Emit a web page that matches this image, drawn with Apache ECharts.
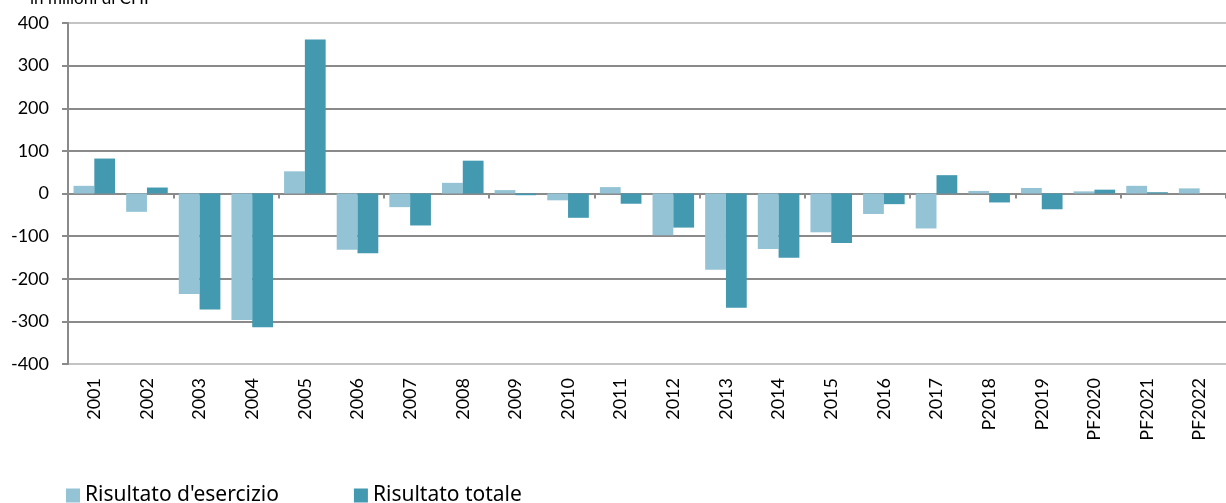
<!DOCTYPE html>
<html>
<head>
<meta charset="utf-8">
<style>
  html, body { margin: 0; padding: 0; background: #fff; }
  #chart { width: 1226px; height: 503px; }
</style>
<script src="https://cdn.jsdelivr.net/npm/echarts@6/dist/echarts.min.js"></script>
</head>
<body>
<div id="chart"></div>
<script>
// dati (milioni di CHF)
const anni = ['2001', '2002', '2003', '2004', '2005', '2006', '2007', '2008', '2009', '2010', '2011',
  '2012', '2013', '2014', '2015', '2016', '2017', 'P2018', 'P2019', 'PF2020', 'PF2021', 'PF2022']
const risultatoEsercizio = [18, -43, -236, -297, 52, -132, -32, 25, 8, -16, 15,
  -98, -179, -130, -91, -48, -82, 6, 13, 5, 18, 12]
const risultatoTotale = [82, 14, -272, -314, 361, -140, -75, 77, -4, -57, -24,
  -80, -268, -151, -116, -25, 43, -21, -37, 9, 3, 0]
const nomi = ["Risultato d'esercizio", 'Risultato totale']

const chart = echarts.init(document.getElementById('chart'))
const axisFont = 'Lato'

chart.setOption({
  animation: false,
  color: ['#93c3d5', '#4399b0'],
  title: {
    text: 'in milioni di CHF',
    left: 25,
    top: -15,
    textStyle: { fontFamily: axisFont, fontSize: 17, fontWeight: 'normal', color: '#000' }
  },
  legend: {
    data: nomi,
    left: 66,
    top: 485,
    padding: 0,
    icon: 'rect',
    itemWidth: 14,
    itemHeight: 14,
    itemGap: 75,
    textStyle: { fontFamily: 'Noto Sans', fontSize: 21, color: '#000' }
  },
  grid: {
    left: 68,
    top: 23,
    width: 1170,
    height: 341
  },
  xAxis: [
    {
      type: 'category',
      data: anni,
      axisLine: { onZero: true, lineStyle: { color: '#8a8a8a', width: 2 } },
      axisTick: { show: true, length: 5, lineStyle: { color: '#8a8a8a', width: 2 } },
      axisLabel: { show: false }
    },
    {
      type: 'category',
      data: anni,
      position: 'bottom',
      axisLine: { show: false, onZero: false },
      axisTick: { show: false },
      axisLabel: {
        rotate: 90,
        margin: 14,
        interval: 0,
        fontFamily: axisFont,
        fontSize: 18,
        color: '#000'
      }
    }
  ],
  yAxis: {
    type: 'value',
    min: -400,
    max: 400,
    interval: 100,
    axisLine: { show: true, lineStyle: { color: '#8a8a8a', width: 2 } },
    axisTick: { show: true, length: 6, lineStyle: { color: '#8a8a8a', width: 2 } },
    axisLabel: { margin: 19, fontFamily: axisFont, fontSize: 18, color: '#000' },
    splitLine: {
      lineStyle: {
        width: 2,
        color: ['#c4c4c4', '#8a8a8a', '#8a8a8a', '#8a8a8a', '#8a8a8a', '#8a8a8a', '#8a8a8a', '#8a8a8a', '#c4c4c4']
      }
    }
  },
  series: [
    {
      name: nomi[0],
      type: 'bar',
      xAxisIndex: 0,
      data: risultatoEsercizio,
      barGap: '0%',
      barCategoryGap: '21%'
    },
    {
      name: nomi[1],
      type: 'bar',
      xAxisIndex: 0,
      data: risultatoTotale,
      barGap: '0%',
      barCategoryGap: '21%'
    }
  ]
})
</script>
</body>
</html>
